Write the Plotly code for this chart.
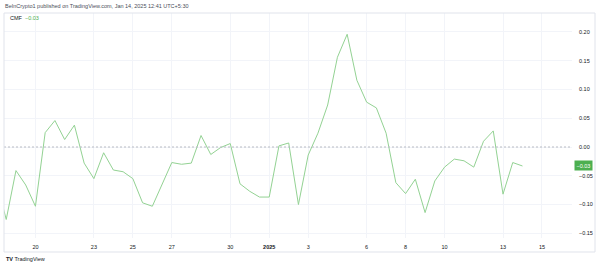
import plotly.graph_objects as go
import pandas as pd

# ---- data ----
times = pd.date_range("2024-12-18 00:00", "2025-01-14 00:00", freq="12h")
cmf = [-0.060, -0.126, -0.041, -0.066, -0.103, 0.025, 0.046, 0.013, 0.038, -0.028,
       -0.055, -0.010, -0.040, -0.043, -0.055, -0.097, -0.103, -0.064, -0.027, -0.030,
       -0.028, 0.020, -0.013, -0.001, 0.006, -0.064, -0.077, -0.087, -0.087, 0.002,
       0.007, -0.100, -0.014, 0.024, 0.073, 0.156, 0.196, 0.116, 0.078, 0.068,
       0.024, -0.062, -0.081, -0.056, -0.114, -0.059, -0.035, -0.021, -0.024, -0.035,
       0.010, 0.028, -0.082, -0.027, -0.033]
x_tick_dates = ["2024-12-20", "2024-12-23", "2024-12-25", "2024-12-27", "2024-12-30",
                "2025-01-01", "2025-01-03", "2025-01-06", "2025-01-08", "2025-01-10",
                "2025-01-13", "2025-01-15"]
x_tick_text = ["20", "23", "25", "27", "30", "<b>2025</b>", "3", "6", "8", "10", "13", "15"]
y_ticks = [-0.15, -0.10, -0.05, 0.0, 0.05, 0.10, 0.15, 0.20]
last_value = cmf[-1]

FONT = "Liberation Sans"
GREEN = "#4caf50"
LINE = "#93d293"
GRID = "#f2f4f9"
TXT = "#131722"

fig = go.Figure()
fig.add_trace(go.Scatter(x=times, y=cmf, mode="lines",
                         line=dict(color=LINE, width=1), hoverinfo="skip",
                         showlegend=False))

fig.update_layout(
    width=600, height=266,
    margin=dict(l=4, r=28, t=13, b=28),
    paper_bgcolor="white", plot_bgcolor="white",
    font=dict(family=FONT, size=5.5, color=TXT),
    xaxis=dict(range=["2024-12-18 09:16", "2025-01-16 13:00"],
               tickvals=x_tick_dates, ticktext=x_tick_text,
               showgrid=True, gridcolor=GRID, gridwidth=1,
               zeroline=False, showline=False, ticks="",
               ticklabelstandoff=4, tickfont=dict(size=5.5, color=TXT)),
    yaxis=dict(range=[-0.1582, 0.233], side="right",
               tickvals=y_ticks, tickformat=".2f",
               showgrid=True, gridcolor=GRID, gridwidth=1,
               zeroline=False, showline=False, ticks="",
               ticklabelstandoff=6, tickfont=dict(size=5.5, color=TXT)),
)

# zero dashed line
fig.add_shape(type="line", xref="paper", yref="y", x0=0, x1=1, y0=0, y1=0,
              line=dict(color="#b8bbc3", width=1, dash="2px,2px"))
# chart frame
fig.add_shape(type="rect", xref="paper", yref="paper", x0=0, x1=1.0405,
              y0=-0.0622, y1=1.0, line=dict(color="#e0e3eb", width=1),
              fillcolor="rgba(0,0,0,0)")

fig.add_annotation(xref="paper", yref="paper", x=-0.002, y=1.031,
                   xanchor="left", yanchor="middle", showarrow=False,
                   text="BeInCrypto1 published on TradingView.com, Jan 14, 2025 12:41 UTC+5:30",
                   font=dict(size=5.5, color="#4a4e59"))
fig.add_annotation(xref="paper", yref="paper", x=0.007, y=0.9764,
                   xanchor="left", yanchor="middle", showarrow=False,
                   text=f"CMF  <span style='color:{GREEN}'>{last_value:.2f}".replace("-", "\u2212") + "</span>",
                   font=dict(size=5.5, color=TXT))
fig.add_annotation(xref="paper", yref="y", x=1.0035, y=last_value,
                   xanchor="left", yanchor="middle", showarrow=False,
                   text=f"{last_value:.2f}".replace("-", "\u2212"),
                   bgcolor=GREEN, borderpad=1.5,
                   font=dict(size=5.5, color="white"))
fig.add_annotation(xref="paper", yref="paper", x=0.0, y=-0.0933,
                   xanchor="left", yanchor="middle", showarrow=False,
                   text="<b>TV</b> TradingView",
                   font=dict(size=5.5, color=TXT))

fig.write_html("out.html")
